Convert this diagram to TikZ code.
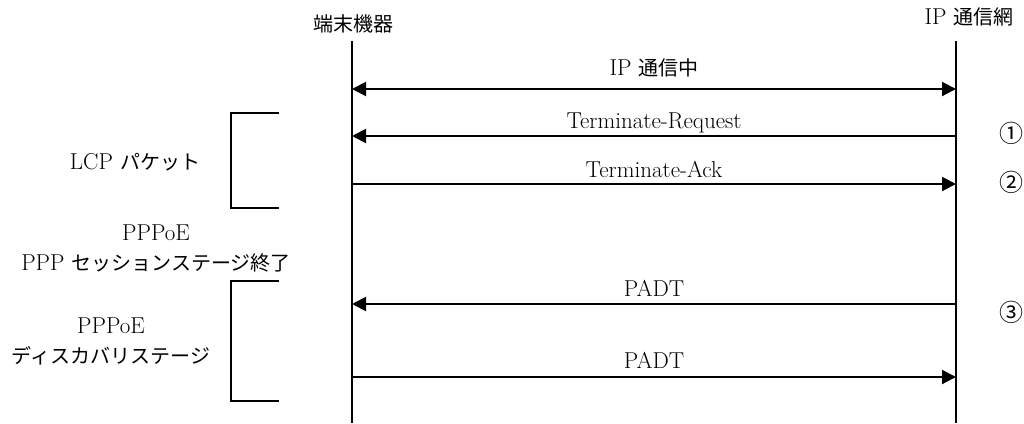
\documentclass[tikz,border=0pt]{standalone}
\usepackage{fontspec}
\newfontfamily\jpfont{Noto Sans CJK JP}
\newcommand\J[1]{{\fontsize{20}{30}\selectfont\jpfont #1}}
\usetikzlibrary{arrows.meta}
\begin{document}
\begin{tikzpicture}[x=1pt,y=-1pt,line width=2pt,
  msg/.style={line width=2pt,-{Triangle[length=14pt,width=14pt]}},
  bimsg/.style={line width=2pt,{Triangle[length=14pt,width=14pt]}-{Triangle[length=14pt,width=14pt]}},
  lbl/.style={inner sep=0pt,font=\fontsize{23}{30}\selectfont},
  mlbl/.style={lbl,anchor=base},
  grp/.style={lbl,align=center},
  num/.style={inner sep=0pt,font=\fontsize{24}{30}\selectfont\jpfont},
  brk/.style={line width=2pt}]
\useasboundingbox (0,0) rectangle (1024,423);
% headers
\node[lbl] (term) at (353,24) {\J{端末機器}};
\node[lbl] (net) at (969,17) {IP \J{通信網}};
% lifelines
\coordinate (LT) at (352,41);
\coordinate (LB) at (352,423);
\coordinate (RT) at (956,41);
\coordinate (RB) at (956,423);
\draw (LT) -- (LB);
\draw (RT) -- (RB);
% message end points
\coordinate (L1) at (352,89);  \coordinate (R1) at (956,89);
\coordinate (L2) at (352,136); \coordinate (R2) at (956,136);
\coordinate (L3) at (352,184); \coordinate (R3) at (956,184);
\coordinate (L4) at (352,304); \coordinate (R4) at (956,304);
\coordinate (L5) at (352,377); \coordinate (R5) at (956,377);
\draw[bimsg] (L1) -- (R1);
\draw[msg] (R2) -- (L2);
\draw[msg] (L3) -- (R3);
\draw[msg] (R4) -- (L4);
\draw[msg] (L5) -- (R5);
% message labels
\node[mlbl] (m1) at (654,75) {IP \J{通信中}};
\node[mlbl] (m2) at (654,128) {Terminate-Request};
\node[mlbl] (m3) at (654,177) {Terminate-Ack};
\node[mlbl] (m4) at (654,296) {PADT};
\node[mlbl] (m5) at (654,368) {PADT};
% step numbers
\node[num] (n1) at (1011,133) {①};
\node[num] (n2) at (1011,182) {②};
\node[num] (n3) at (1011,312) {③};
% brackets
\coordinate (B1a) at (279,113); \coordinate (B1b) at (231,113);
\coordinate (B1c) at (231,208); \coordinate (B1d) at (279,208);
\draw[brk] (B1a) -- (B1b) -- (B1c) -- (B1d);
\coordinate (B2a) at (279,281); \coordinate (B2b) at (231,281);
\coordinate (B2c) at (231,401); \coordinate (B2d) at (279,401);
\draw[brk] (B2a) -- (B2b) -- (B2c) -- (B2d);
% group labels
\node[grp] (g1) at (135,162) {LCP \J{パケット}};
\node[grp] (g2) at (156,248) {PPPoE\\PPP \J{セッションステージ終了}};
\node[grp] (g3) at (111,341) {PPPoE\\\J{ディスカバリステージ}};
\end{tikzpicture}
\end{document}
